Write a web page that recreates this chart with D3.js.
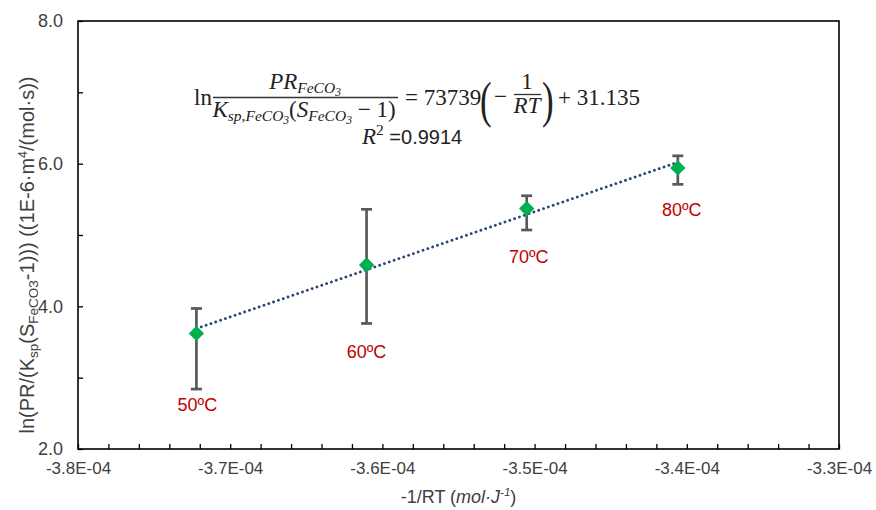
<!DOCTYPE html>
<html>
<head>
<meta charset="utf-8">
<script src="https://cdn.jsdelivr.net/npm/d3@7"></script>
<style>
  html, body { margin: 0; padding: 0; background: #fff; }
  svg { display: block; }
</style>
</head>
<body>
<svg id="chart" width="876" height="510"></svg>
<script>
// ---------------- data ----------------
const tempLabels = ["50ºC", "60ºC", "70ºC", "80ºC"];
const xValues = [-3.7222e-4, -3.6104e-4, -3.5052e-4, -3.4059e-4];   // -1/RT
const yValues = [3.62, 4.58, 5.37, 5.94];                              // ln(PR/...)
const yErrHigh = [3.97, 5.36, 5.55, 6.11];
const yErrLow  = [2.84, 3.76, 5.07, 5.71];
const trendSlope = 73739;
const trendIntercept = 31.135;
const rSquared = "0.9914";
const xTickValues = [-3.8e-4, -3.7e-4, -3.6e-4, -3.5e-4, -3.4e-4, -3.3e-4];
const yTickValues = [2, 4, 6, 8];
const xDomain = [-3.8e-4, -3.3e-4];
const yDomain = [2, 8];

// ---------------- layout ----------------
const W = 876, H = 510;
const margin = { top: 21, right: 37, bottom: 61, left: 78 };
const SANS = "'Liberation Sans', Arial, sans-serif";
const SERIF = "'Liberation Serif', 'Times New Roman', serif";
const svg = d3.select("#chart");
const x = d3.scaleLinear().domain(xDomain).range([margin.left, W - margin.right]);
const y = d3.scaleLinear().domain(yDomain).range([H - margin.bottom, margin.top]);

const fmtX = v => (v / 1e-4).toFixed(1) + "E-04";

// minor ticks
const xMinor = d3.range(0, 26).map(i => xDomain[0] + i * 2e-6);
const yMinor = d3.range(yDomain[0], yDomain[1] + 0.01, 1);

svg.append("g").attr("transform", `translate(0,${y(yDomain[0])})`)
  .call(d3.axisBottom(x).tickValues(xMinor).tickSize(-5).tickFormat(""))
  .call(g => g.select(".domain").remove())
  .call(g => g.selectAll("line").attr("stroke", "#000").attr("stroke-width", 1.3));
svg.append("g").attr("transform", `translate(0,${y(yDomain[0])})`)
  .call(d3.axisBottom(x).tickValues(xTickValues).tickSize(0).tickPadding(13).tickFormat(fmtX))
  .call(g => g.select(".domain").remove())
  .call(g => g.selectAll("text").attr("font-size", 17).attr("fill", "#404040").style("font-family", SANS));

svg.append("g").attr("transform", `translate(${x(xDomain[0])},0)`)
  .call(d3.axisLeft(y).tickValues(yMinor).tickSize(-5).tickFormat(""))
  .call(g => g.select(".domain").remove())
  .call(g => g.selectAll("line").attr("stroke", "#000").attr("stroke-width", 1.3));
svg.append("g").attr("transform", `translate(${x(xDomain[0])},0)`)
  .call(d3.axisLeft(y).tickValues(yTickValues).tickSize(0).tickPadding(15).tickFormat(d3.format(".1f")))
  .call(g => g.select(".domain").remove())
  .call(g => g.selectAll("text").attr("font-size", 18).attr("fill", "#404040").style("font-family", SANS));

// frame
svg.append("rect")
  .attr("x", x(xDomain[0])).attr("y", y(yDomain[1]))
  .attr("width", x(xDomain[1]) - x(xDomain[0]))
  .attr("height", y(yDomain[0]) - y(yDomain[1]))
  .attr("fill", "none").attr("stroke", "#000").attr("stroke-width", 1.6);

// trendline (dotted)
const xMin = d3.min(xValues), xMax = d3.max(xValues);
svg.append("line")
  .attr("x1", x(xMin)).attr("y1", y(trendSlope * xMin + trendIntercept))
  .attr("x2", x(xMax)).attr("y2", y(trendSlope * xMax + trendIntercept))
  .attr("stroke", "#2A4576").attr("stroke-width", 2.8)
  .attr("stroke-linecap", "round").attr("stroke-dasharray", "0.1 5");

// error bars
const eb = svg.append("g").attr("stroke", "#595959").attr("stroke-width", 2.7);
xValues.forEach((xv, i) => {
  eb.append("line").attr("x1", x(xv)).attr("x2", x(xv)).attr("y1", y(yErrHigh[i])).attr("y2", y(yErrLow[i]));
  eb.append("line").attr("x1", x(xv) - 5.5).attr("x2", x(xv) + 5.5).attr("y1", y(yErrHigh[i])).attr("y2", y(yErrHigh[i]));
  eb.append("line").attr("x1", x(xv) - 5.5).attr("x2", x(xv) + 5.5).attr("y1", y(yErrLow[i])).attr("y2", y(yErrLow[i]));
});

// markers (diamonds)
svg.append("g").selectAll("path").data(xValues).join("path")
  .attr("d", d3.symbol(d3.symbolDiamond2, 150))
  .attr("transform", (d, i) => `translate(${x(d)},${y(yValues[i])})`)
  .attr("fill", "#00B050");

// temperature labels
const labelDx = [1, 0, 2, 4];
const labelDy = [22, 35, 33, 32];
svg.append("g").selectAll("text").data(tempLabels).join("text")
  .attr("x", (d, i) => x(xValues[i]) + labelDx[i])
  .attr("y", (d, i) => y(yErrLow[i]) + labelDy[i])
  .attr("text-anchor", "middle")
  .attr("font-size", 18).attr("fill", "#C00000")
  .style("font-family", SANS)
  .text(d => d);

// axis titles
const yt = svg.append("text")
  .attr("transform", `translate(34,${(y(yDomain[0]) + y(yDomain[1])) / 2 + 20}) rotate(-90)`)
  .attr("text-anchor", "middle").attr("font-size", 20).attr("fill", "#404040")
  .style("font-family", SANS);
yt.append("tspan").text("ln(PR/(K");
yt.append("tspan").attr("font-size", 13.5).attr("dy", 4).text("sp");
yt.append("tspan").attr("dy", -4).text("(S");
yt.append("tspan").attr("font-size", 13.5).attr("dy", 4).text("FeCO3");
yt.append("tspan").attr("dy", -4).text("-1))) ((1E-6·m");
yt.append("tspan").attr("font-size", 12.5).attr("dy", -7).text("4");
yt.append("tspan").attr("dy", 7).text("/(mol·s))");

const xt = svg.append("text")
  .attr("x", (x(xDomain[0]) + x(xDomain[1])) / 2).attr("y", 503)
  .attr("text-anchor", "middle").attr("font-size", 18).attr("fill", "#404040")
  .style("font-family", SANS);
xt.append("tspan").text("-1/RT (");
xt.append("tspan").attr("font-style", "italic").text("mol·J");
xt.append("tspan").attr("font-style", "italic").attr("font-size", 11.5).attr("dy", -7).text("-1");
xt.append("tspan").attr("dy", 7).text(")");

// ---------------- equation ----------------
const eq = svg.append("g").attr("fill", "#222").style("font-family", SERIF);
const EQ = 23, SUB = 15.5, SUB2 = 11.5;
eq.append("text").attr("x", 194).attr("y", 105).attr("font-size", EQ).text("ln");

// numerator
const num = eq.append("text").attr("x", 305).attr("y", 89).attr("text-anchor", "middle").attr("font-size", EQ).attr("font-style", "italic");
num.append("tspan").text("PR");
num.append("tspan").attr("font-size", SUB).attr("dy", 4).text("FeCO");
num.append("tspan").attr("font-size", SUB2).attr("dy", 3).text("3");
eq.append("line").attr("x1", 213).attr("x2", 398).attr("y1", 97.5).attr("y2", 97.5).attr("stroke", "#333").attr("stroke-width", 1.3);

// denominator
const den = eq.append("text").attr("x", 304).attr("y", 117).attr("text-anchor", "middle").attr("font-size", EQ);
den.append("tspan").attr("font-style", "italic").text("K");
den.append("tspan").attr("font-style", "italic").attr("font-size", SUB).attr("dy", 4).text("sp,FeCO");
den.append("tspan").attr("font-style", "italic").attr("font-size", SUB2).attr("dy", 3).text("3");
den.append("tspan").attr("dy", -7).text("(");
den.append("tspan").attr("font-style", "italic").text("S");
den.append("tspan").attr("font-style", "italic").attr("font-size", SUB).attr("dy", 4).text("FeCO");
den.append("tspan").attr("font-style", "italic").attr("font-size", SUB2).attr("dy", 3).text("3");
den.append("tspan").attr("dy", -7).text(" − 1)");

eq.append("text").attr("x", 405).attr("y", 105).attr("font-size", EQ).text("= " + trendSlope);
eq.append("text").attr("x", 480).attr("y", 117).attr("font-size", 50)
  .attr("transform", "translate(480,0) scale(0.7,1) translate(-480,0)").text("(");
eq.append("text").attr("x", 494).attr("y", 104).attr("font-size", EQ).text("−");
eq.append("text").attr("x", 527).attr("y", 89).attr("text-anchor", "middle").attr("font-size", EQ).text("1");
eq.append("line").attr("x1", 514).attr("x2", 541).attr("y1", 94.5).attr("y2", 94.5).attr("stroke", "#333").attr("stroke-width", 1.3);
eq.append("text").attr("x", 527).attr("y", 113).attr("text-anchor", "middle").attr("font-size", EQ).attr("font-style", "italic").text("RT");
eq.append("text").attr("x", 542).attr("y", 117).attr("font-size", 50)
  .attr("transform", "translate(542,0) scale(0.7,1) translate(-542,0)").text(")");
eq.append("text").attr("x", 558).attr("y", 105).attr("font-size", EQ).text("+ " + trendIntercept);

const r2 = eq.append("text").attr("x", 362).attr("y", 144).attr("font-size", EQ);
r2.append("tspan").attr("font-style", "italic").text("R");
r2.append("tspan").attr("font-size", SUB).attr("dy", -9).text("2");
r2.append("tspan").attr("dy", 9).attr("font-size", 20).style("font-family", SANS).text(" =" + rSquared);
</script>
</body>
</html>
